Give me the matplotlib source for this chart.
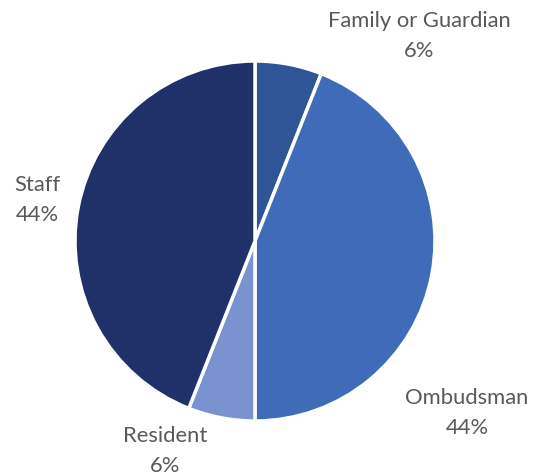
import matplotlib.pyplot as plt

labels = ["Family or Guardian", "Ombudsman", "Resident", "Staff"]
shares = [6, 44, 6, 44]
colors = ["#2F5597", "#3F6BB8", "#7A93D0", "#203068"]

# where each label block sits, in pixels from the top-left corner
label_pos = [(419, 36), (467, 413), (165, 451), (37, 200)]

W, H = 541, 477
fig = plt.figure(figsize=(W / 100, H / 100), dpi=100)
ax = fig.add_axes([(255 - 180) / W, (H - 422) / H, 360 / W, 360 / H])

ax.pie(shares, colors=colors, startangle=90, counterclock=False,
       wedgeprops=dict(edgecolor="white", linewidth=2.5))
ax.set_xlim(-1, 1)
ax.set_ylim(-1, 1)
ax.set_aspect("equal")
ax.axis("off")

for name, val, (px, py) in zip(labels, shares, label_pos):
    fig.text(px / W, 1 - py / H, f"{name}\n{val}%", ha="center", va="center",
             fontsize=15.8, color="#595959", family="Lato", linespacing=1.65)

plt.savefig("out.png", dpi=100)
